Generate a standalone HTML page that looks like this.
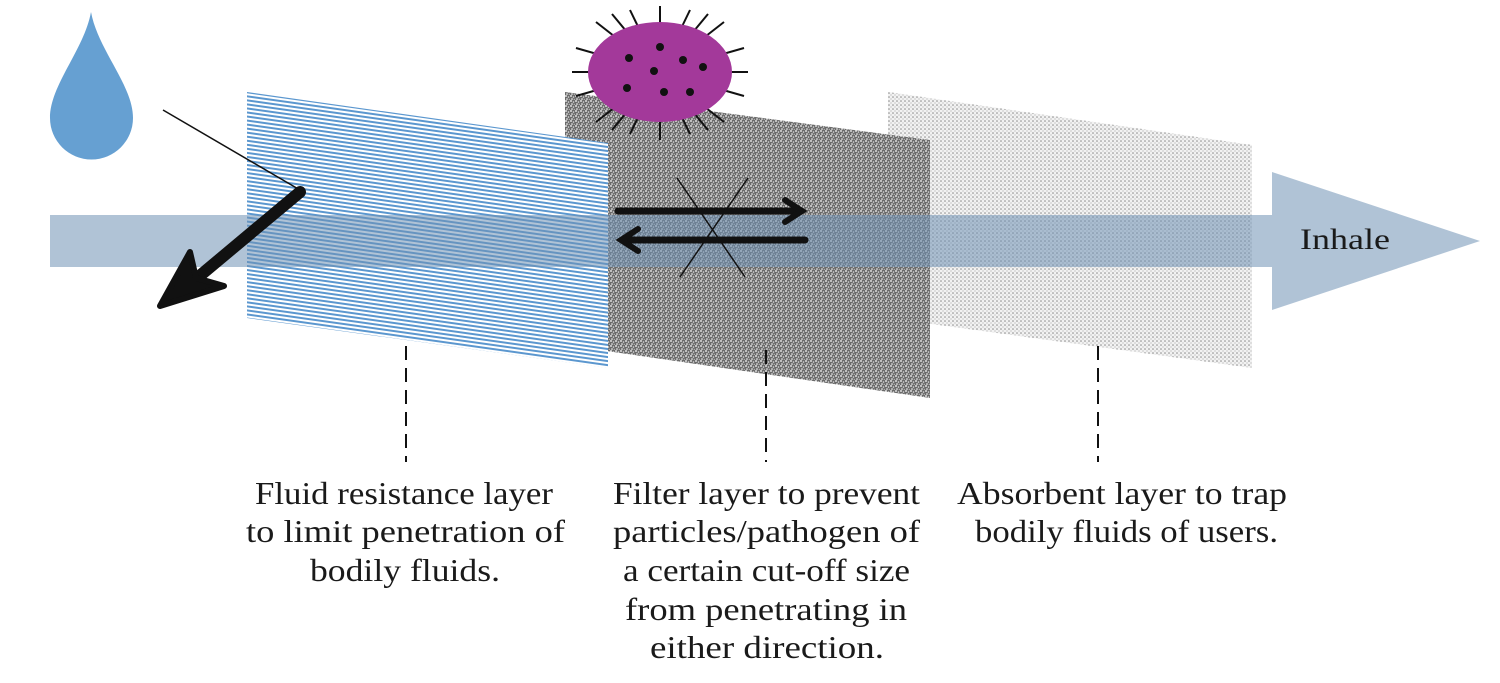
<!DOCTYPE html>
<html><head><meta charset="utf-8"><style>
html,body{margin:0;padding:0;background:#fff;}
svg{display:block;}
text{font-family:"Liberation Serif",serif;fill:#1a1a1a;}
</style></head><body>
<svg width="1500" height="683" viewBox="0 0 1500 683" xmlns="http://www.w3.org/2000/svg">
<defs>
<pattern id="stripes" width="6" height="4" patternUnits="userSpaceOnUse" patternTransform="rotate(8)">
<rect width="6" height="4" fill="#ffffff"/><rect width="6" height="2" fill="#5b97cf"/>
</pattern>
<pattern id="noise" width="5" height="5" patternUnits="userSpaceOnUse">
<rect width="5" height="5" fill="#6a6a6a"/>
<circle cx="1" cy="1" r="0.9" fill="#fff"/><circle cx="3.5" cy="2" r="0.8" fill="#e0e0e0"/>
<circle cx="2" cy="4" r="0.8" fill="#fff"/><circle cx="4.3" cy="4.3" r="0.6" fill="#ccc"/>
</pattern>
<pattern id="dots" width="4" height="4" patternUnits="userSpaceOnUse">
<rect width="4" height="4" fill="#f2f2f2"/><circle cx="1" cy="1" r="0.8" fill="#8a8a8a"/><circle cx="3" cy="3" r="0.6" fill="#aaa"/>
</pattern>
</defs>
<path d="M91,12 C84,50 50,85 50,118 A41,41 0 0 0 133,118 C133,85 98,50 91,12 Z" fill="#66a0d2"/>
<polygon points="888,92 1252,145 1252,368 888,318" fill="url(#dots)"/>
<polygon points="565,92 930,140 930,398 565,345" fill="url(#noise)"/>
<polygon points="247,92 608,143 608,368 247,318" fill="url(#stripes)"/>
<rect x="50" y="215" width="1222" height="52" fill="#6f91b5" fill-opacity="0.55"/>
<polygon points="1272,172 1480,241 1272,310" fill="#6f91b5" fill-opacity="0.55"/>
<text x="1300" y="249" font-size="30" textLength="90" lengthAdjust="spacingAndGlyphs">Inhale</text>
<g stroke="#111" stroke-width="2">
<line x1="572" y1="72" x2="748" y2="72"/>
<line x1="660" y1="6" x2="660" y2="140"/>
<line x1="596" y1="22" x2="724" y2="122"/>
<line x1="724" y1="22" x2="596" y2="122"/>
<line x1="576" y1="48" x2="744" y2="96"/>
<line x1="576" y1="96" x2="744" y2="48"/>
<line x1="630" y1="10" x2="690" y2="134"/>
<line x1="690" y1="10" x2="630" y2="134"/>
<line x1="612" y1="14" x2="708" y2="130"/>
<line x1="708" y1="14" x2="612" y2="130"/>
</g>
<ellipse cx="660" cy="72" rx="72" ry="50" fill="#a3399a"/>
<g fill="#111">
<circle cx="660" cy="47" r="4"/><circle cx="629" cy="58" r="4"/><circle cx="683" cy="60" r="4"/>
<circle cx="703" cy="67" r="4"/><circle cx="654" cy="71" r="4"/><circle cx="627" cy="88" r="4"/>
<circle cx="664" cy="92" r="4"/><circle cx="690" cy="92" r="4"/>
</g>
<g stroke="#111" stroke-width="1.5">
<line x1="677" y1="178" x2="745" y2="277"/>
<line x1="748" y1="178" x2="680" y2="277"/>
</g>
<g stroke="#111" stroke-width="7" fill="none" stroke-linecap="round">
<line x1="618" y1="211" x2="800" y2="211"/>
<polyline points="785,200 802,211 785,222" stroke-width="6"/>
<line x1="623" y1="240" x2="805" y2="240"/>
<polyline points="638,229 621,240 638,251" stroke-width="6"/>
</g>
<line x1="163" y1="110" x2="300" y2="190" stroke="#111" stroke-width="1.5"/>
<g stroke="#111" stroke-width="12" fill="none" stroke-linecap="round" stroke-linejoin="round">
<line x1="300" y1="192" x2="178" y2="294"/>
</g>
<polygon points="160,306 190,252 196,278 224,286" fill="#111" stroke="#111" stroke-width="6" stroke-linejoin="round"/>
<g stroke="#111" stroke-width="2" stroke-dasharray="14,8">
<line x1="406" y1="346" x2="406" y2="462"/>
<line x1="766" y1="350" x2="766" y2="462"/>
<line x1="1098" y1="346" x2="1098" y2="462"/>
</g>
<g font-size="32">
<text x="255" y="504" textLength="298" lengthAdjust="spacingAndGlyphs">Fluid resistance layer</text>
<text x="246" y="542" textLength="319" lengthAdjust="spacingAndGlyphs">to limit penetration of</text>
<text x="310" y="581" textLength="190" lengthAdjust="spacingAndGlyphs">bodily fluids.</text>
<text x="613" y="504" textLength="307" lengthAdjust="spacingAndGlyphs">Filter layer to prevent</text>
<text x="613" y="542" textLength="307" lengthAdjust="spacingAndGlyphs">particles/pathogen of</text>
<text x="623" y="581" textLength="287" lengthAdjust="spacingAndGlyphs">a certain cut-off size</text>
<text x="625" y="620" textLength="282" lengthAdjust="spacingAndGlyphs">from penetrating in</text>
<text x="650" y="658" textLength="234" lengthAdjust="spacingAndGlyphs">either direction.</text>
<text x="957" y="504" textLength="330" lengthAdjust="spacingAndGlyphs">Absorbent layer to trap</text>
<text x="975" y="542" textLength="303" lengthAdjust="spacingAndGlyphs">bodily fluids of users.</text>
</g>
</svg>
</body></html>
